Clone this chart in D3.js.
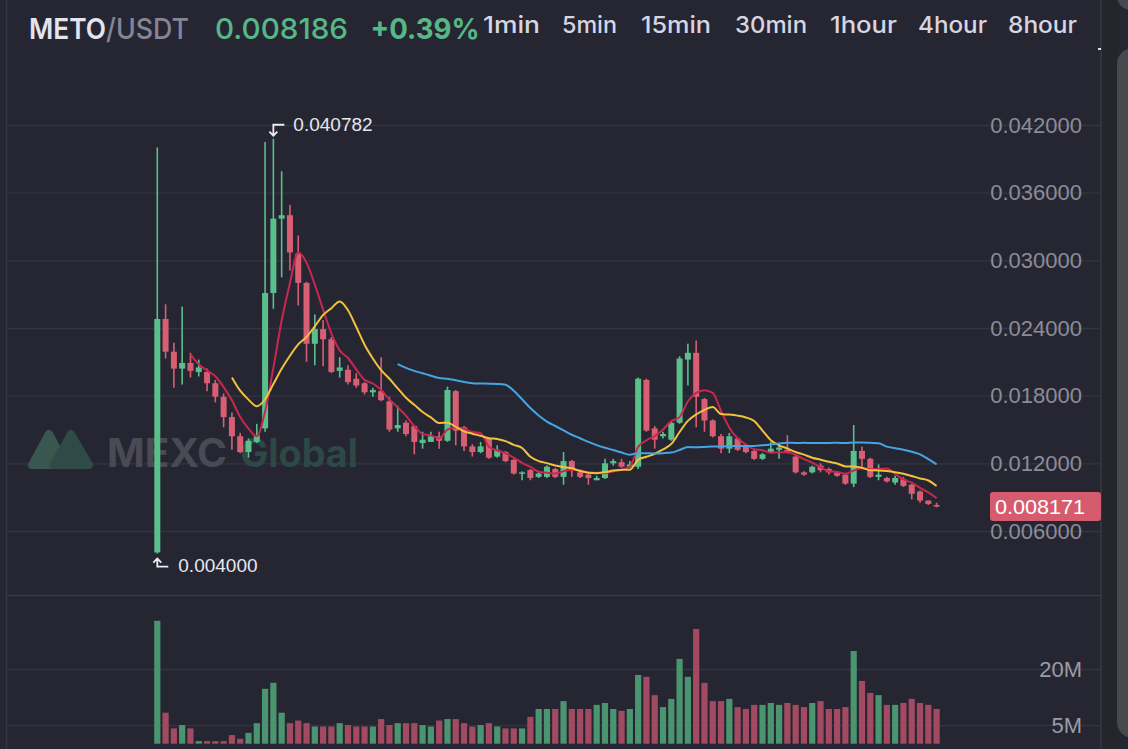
<!DOCTYPE html>
<html lang="en">
<head>
<meta charset="UTF-8">
<title>METO/USDT</title>
<script src="https://cdnjs.cloudflare.com/ajax/libs/d3/7.8.2/d3.min.js"></script>
<style>
  html, body { margin: 0; padding: 0; background: #262632; }
  svg { display: block; }
</style>
</head>
<body>
<div id="chart"></div>
<script>
// candles, oldest first
const opens = [
  0.0041, 0.0248, 0.0219, 0.0204, 0.0209, 0.0201, 0.0201, 0.0191, 0.0179, 0.0161,
  0.0144, 0.0130, 0.0139, 0.0151, 0.0271, 0.0337, 0.0340, 0.0306, 0.0280, 0.0226,
  0.0239, 0.0230, 0.0202, 0.0203, 0.0195, 0.0191, 0.0183, 0.0184, 0.0175, 0.0151,
  0.0156, 0.0153, 0.0138, 0.0139, 0.0144, 0.0140, 0.0184, 0.0152, 0.0135, 0.0130,
  0.0142, 0.0126, 0.0130, 0.0123, 0.0111, 0.0114, 0.0108, 0.0108, 0.0115, 0.0108,
  0.0122, 0.0112, 0.0110, 0.0105, 0.0107, 0.0120, 0.0121, 0.0117, 0.0117, 0.0194,
  0.0151, 0.0144, 0.0141, 0.0156, 0.0212, 0.0218, 0.0177, 0.0158, 0.0144, 0.0133,
  0.0142, 0.0135, 0.0131, 0.0124, 0.0130, 0.0132, 0.0132, 0.0126, 0.0112, 0.0112,
  0.0118, 0.0115, 0.0112, 0.0110, 0.0102, 0.0131, 0.0124, 0.0108, 0.0107, 0.0103,
  0.0106, 0.0101, 0.0095, 0.0087, 0.0083
];
const highs = [
  0.0400, 0.0261, 0.0227, 0.0259, 0.0218, 0.0212, 0.0204, 0.0194, 0.0182, 0.0165,
  0.0147, 0.0142, 0.0155, 0.0405, 0.040782, 0.0379, 0.0349, 0.0322, 0.0281, 0.0252,
  0.0247, 0.0232, 0.0214, 0.0207, 0.0200, 0.0192, 0.0187, 0.0214, 0.0179, 0.0171,
  0.0158, 0.0154, 0.0148, 0.0148, 0.0148, 0.0188, 0.0185, 0.0153, 0.0137, 0.0139,
  0.0143, 0.0136, 0.0131, 0.0124, 0.0113, 0.0115, 0.0112, 0.0118, 0.0116, 0.0130,
  0.0123, 0.0113, 0.0111, 0.0109, 0.0124, 0.0124, 0.0124, 0.0122, 0.0196, 0.0195,
  0.0153, 0.0148, 0.0157, 0.0215, 0.0226, 0.0229, 0.0178, 0.0159, 0.0146, 0.0147,
  0.0143, 0.0136, 0.0132, 0.0129, 0.0139, 0.0138, 0.0145, 0.0127, 0.0113, 0.0118,
  0.0120, 0.0116, 0.0113, 0.0111, 0.0154, 0.0135, 0.0125, 0.0119, 0.0108, 0.0109,
  0.0108, 0.0102, 0.0096, 0.0087, 0.0085
];
const lows = [
  0.0040, 0.0213, 0.0187, 0.0190, 0.0196, 0.0197, 0.0184, 0.0174, 0.0152, 0.0132,
  0.0129, 0.0125, 0.0138, 0.0148, 0.0257, 0.0285, 0.0291, 0.0260, 0.0210, 0.0207,
  0.0206, 0.0200, 0.0196, 0.0190, 0.0187, 0.0181, 0.0179, 0.0175, 0.0148, 0.0148,
  0.0144, 0.0128, 0.0133, 0.0139, 0.0133, 0.0139, 0.0136, 0.0131, 0.0126, 0.0129,
  0.0124, 0.0125, 0.0121, 0.0110, 0.0105, 0.0105, 0.0107, 0.0107, 0.0107, 0.0101,
  0.0108, 0.0107, 0.0101, 0.0105, 0.0106, 0.0118, 0.0116, 0.0116, 0.0115, 0.0148,
  0.0133, 0.0142, 0.0140, 0.0155, 0.0189, 0.0152, 0.0148, 0.0143, 0.0129, 0.0129,
  0.0131, 0.0129, 0.0123, 0.0123, 0.0129, 0.0124, 0.0129, 0.0111, 0.0109, 0.0111,
  0.0112, 0.0110, 0.0108, 0.0101, 0.0099, 0.0117, 0.0107, 0.0105, 0.0103, 0.0101,
  0.0099, 0.0088, 0.0085, 0.0083, 0.0081
];
const closes = [
  0.0248, 0.0219, 0.0204, 0.0209, 0.0202, 0.0205, 0.0191, 0.0179, 0.0161, 0.0144,
  0.0130, 0.0140, 0.0145, 0.0271, 0.0337, 0.0340, 0.0307, 0.0280, 0.0226, 0.0239,
  0.0230, 0.0201, 0.0205, 0.0192, 0.0189, 0.0183, 0.0185, 0.0176, 0.0150, 0.0154,
  0.0146, 0.0139, 0.0141, 0.0144, 0.0140, 0.0185, 0.0149, 0.0135, 0.0130, 0.0135,
  0.0125, 0.0132, 0.0122, 0.0111, 0.0112, 0.0107, 0.0111, 0.0117, 0.0108, 0.0122,
  0.0114, 0.0108, 0.0107, 0.0107, 0.0120, 0.0122, 0.0117, 0.0119, 0.0195, 0.0149,
  0.0141, 0.0146, 0.0156, 0.0213, 0.0218, 0.0179, 0.0158, 0.0144, 0.0133, 0.0144,
  0.0132, 0.0130, 0.0124, 0.0128, 0.0133, 0.0134, 0.0130, 0.0112, 0.0110, 0.0117,
  0.0114, 0.0112, 0.0109, 0.0102, 0.0131, 0.0124, 0.0108, 0.0110, 0.0104, 0.0107,
  0.0100, 0.0093, 0.0087, 0.0084, 0.008171
];
// volume in millions
const volumes = [
  32.9, 8.3, 4.1, 5.0, 4.1, 0.7, 0.7, 0.7, 0.7, 2.3,
  1.3, 2.9, 5.5, 14.7, 16.3, 8.3, 5.5, 6.2, 5.5, 4.6,
  4.6, 4.6, 5.5, 5.0, 4.6, 4.6, 4.6, 6.6, 5.0, 5.5,
  5.5, 5.5, 5.0, 4.6, 6.2, 6.6, 6.6, 5.5, 4.6, 5.0,
  5.5, 4.6, 4.1, 4.1, 4.1, 7.2, 9.3, 9.3, 9.3, 11.4,
  9.3, 9.3, 9.3, 10.4, 10.9, 9.3, 8.8, 9.3, 18.4, 17.9,
  13.0, 9.8, 12.0, 22.7, 17.9, 30.7, 16.3, 11.4, 11.4, 12.0,
  9.8, 9.3, 10.4, 10.4, 10.9, 10.4, 10.9, 10.4, 9.8, 10.9,
  11.4, 9.3, 9.3, 9.8, 24.8, 16.8, 13.6, 13.0, 10.4, 10.4,
  10.9, 12.0, 10.9, 10.4, 9.3
];

const priceTicks = [0.006, 0.012, 0.018, 0.024, 0.030, 0.036, 0.042];
const volTicks = [5, 20];
const maPeriods = [5, 10, 30];
const maColors = ["#c9274f", "#f3c13c", "#45a5e2"];
const intervals = ["1min", "5min", "15min", "30min", "1hour", "4hour", "8hour"];
const intervalX = [483, 562, 641, 735, 830, 918, 1008];
const intervalW = [57, 55, 70, 72, 67, 69, 69];

const lastPrice = 0.008186;
const change = "+0.39%";

const width = 1128, height = 749;
const up = "#5bbf8c", down = "#d85f73";
const upVol = "#4a9470", downVol = "#a14a61";
const bg = "#262632";
const grid = "#353542";
const axisFont = "'Liberation Sans', Arial, Helvetica, sans-serif";

const svg = d3.select("#chart").append("svg")
  .attr("width", width)
  .attr("height", height);

svg.append("rect").attr("width", width).attr("height", height).attr("fill", bg);

const candles = closes.map((c, i) => ({
  i, o: opens[i], h: highs[i], l: lows[i], c, v: volumes[i]
}));

const x = d3.scaleLinear().domain([0, candles.length - 1]).range([157.3, 936.6]);
const y = d3.scaleLinear().domain([0.006, 0.042]).range([531, 125]);
const yVol = d3.scaleLinear().domain([0, 20]).range([743.7, 669]);

// left / right frame
svg.append("line").attr("x1", 6.5).attr("x2", 6.5).attr("y1", 0).attr("y2", height)
  .attr("stroke", "#363642").attr("stroke-width", 1.5);
svg.append("rect").attr("x", 1101.5).attr("y", 0).attr("width", 16).attr("height", height)
  .attr("fill", "#25252c");
svg.append("line").attr("x1", 1101).attr("x2", 1101).attr("y1", 0).attr("y2", height)
  .attr("stroke", "#3c3c48").attr("stroke-width", 1.2);
svg.append("rect").attr("x", 1117).attr("y", 48).attr("width", 40).attr("height", 690)
  .attr("rx", 16).attr("fill", "#48484f");
svg.append("rect").attr("x", 1117).attr("y", -40).attr("width", 40).attr("height", 50)
  .attr("rx", 14).attr("fill", "#48484f");
svg.append("rect").attr("x", 1098).attr("y", 48).attr("width", 3).attr("height", 2)
  .attr("fill", "#e0e0e8");

// separator between price and volume panes
svg.append("line").attr("x1", 7).attr("x2", 1101).attr("y1", 595.5).attr("y2", 595.5)
  .attr("stroke", "#3a3a47").attr("stroke-width", 1.5);

// price axis + grid
const yAxis = svg.append("g")
  .attr("transform", "translate(1100,0)")
  .call(d3.axisRight(y).tickValues(priceTicks).tickSize(-1092).tickPadding(0)
    .tickFormat(d3.format(".6f")));
yAxis.select(".domain").remove();
yAxis.selectAll(".tick line").attr("stroke", grid).attr("stroke-width", 1.3);
yAxis.selectAll(".tick text")
  .attr("x", -18).attr("text-anchor", "end")
  .attr("fill", "#8c8c98").attr("font-size", 22).attr("font-family", axisFont);

// volume axis + grid
const vAxis = svg.append("g")
  .attr("transform", "translate(1100,0)")
  .call(d3.axisRight(yVol).tickValues(volTicks).tickSize(-1092).tickPadding(0)
    .tickFormat(d => d + "M"));
vAxis.select(".domain").remove();
vAxis.selectAll(".tick line").attr("stroke", grid).attr("stroke-width", 1.3);
vAxis.selectAll(".tick text")
  .attr("x", -18).attr("text-anchor", "end")
  .attr("fill", "#9c9ca8").attr("font-size", 22).attr("font-family", axisFont);

// watermark
const wm = svg.append("g");
wm.append("path")
  .attr("d", "M32,465 L49,434 L66,465 Z")
  .attr("fill", "#3a574f").attr("stroke", "#3a574f")
  .attr("stroke-width", 8).attr("stroke-linejoin", "round");
wm.append("path")
  .attr("d", "M54,465 L71,434 L89,465 Z")
  .attr("fill", "#2f4a47").attr("stroke", "#2f4a47")
  .attr("stroke-width", 8).attr("stroke-linejoin", "round");
wm.append("text").attr("x", 107).attr("y", 467)
  .attr("font-family", "Inter, 'Liberation Sans', sans-serif").attr("font-weight", 700)
  .attr("font-size", 39).attr("textLength", 120).attr("lengthAdjust", "spacingAndGlyphs")
  .attr("fill", "#4a4a55").text("MEXC");
wm.append("text").attr("x", 240).attr("y", 467)
  .attr("font-family", "Inter, 'Liberation Sans', sans-serif").attr("font-weight", 700)
  .attr("font-size", 39).attr("textLength", 118).attr("lengthAdjust", "spacingAndGlyphs")
  .attr("fill", "#2d4845").text("Global");

// volume bars
svg.append("g").selectAll("rect")
  .data(candles).join("rect")
  .attr("x", d => x(d.i) - 3.1)
  .attr("width", 6.2)
  .attr("y", d => yVol(d.v))
  .attr("height", d => yVol(0) - yVol(d.v))
  .attr("fill", d => d.c >= d.o ? upVol : downVol);

// candles
const cg = svg.append("g");
cg.selectAll("line")
  .data(candles).join("line")
  .attr("x1", d => x(d.i)).attr("x2", d => x(d.i))
  .attr("y1", d => y(d.h)).attr("y2", d => y(d.l))
  .attr("stroke", d => d.c >= d.o ? up : down)
  .attr("stroke-width", 1.6);
cg.selectAll("rect")
  .data(candles).join("rect")
  .attr("x", d => x(d.i) - 3)
  .attr("width", 6)
  .attr("y", d => y(Math.max(d.o, d.c)))
  .attr("height", d => Math.max(1.5, Math.abs(y(d.o) - y(d.c))))
  .attr("fill", d => d.c >= d.o ? up : down);

// moving averages of the closes
maPeriods.forEach((n, k) => {
  const pts = candles.slice(n - 1).map(d => ({
    i: d.i,
    v: d3.mean(closes.slice(d.i - n + 1, d.i + 1))
  }));
  svg.append("path")
    .datum(pts)
    .attr("fill", "none")
    .attr("stroke", maColors[k])
    .attr("stroke-width", 2)
    .attr("d", d3.line().x(d => x(d.i)).y(d => y(d.v)).curve(d3.curveMonotoneX));
});

// high / low markers
const hiIdx = d3.maxIndex(highs), loIdx = d3.minIndex(lows);
const hx = x(hiIdx), hy = y(highs[hiIdx]);
svg.append("path")
  .attr("d", `M${hx + 11},${hy - 14} H${hx} V${hy - 3} M${hx - 4},${hy - 7} L${hx},${hy - 3} L${hx + 4},${hy - 7}`)
  .attr("fill", "none").attr("stroke", "#ececf2").attr("stroke-width", 1.8);
svg.append("text").attr("x", hx + 20).attr("y", hy - 14).attr("dy", "0.35em")
  .attr("font-family", axisFont).attr("font-size", 19).attr("fill", "#e6e6ee")
  .text(d3.format(".6f")(highs[hiIdx]));
const lx = x(loIdx), ly = y(lows[loIdx]);
svg.append("path")
  .attr("d", `M${lx},${ly + 5} V${ly + 13} H${lx + 11} M${lx - 4},${ly + 9} L${lx},${ly + 5} L${lx + 4},${ly + 9}`)
  .attr("fill", "none").attr("stroke", "#ececf2").attr("stroke-width", 1.8);
svg.append("text").attr("x", lx + 21).attr("y", ly + 12).attr("dy", "0.35em")
  .attr("font-family", axisFont).attr("font-size", 19).attr("fill", "#e6e6ee")
  .text(d3.format(".6f")(lows[loIdx]));

// last price tag
const last = closes[closes.length - 1];
svg.append("rect").attr("x", 990).attr("y", y(last) - 14.5).attr("width", 111).attr("height", 29)
  .attr("rx", 3).attr("fill", "#d45c6e");
svg.append("text").attr("x", 995).attr("y", y(last)).attr("dy", "0.35em")
  .attr("font-family", axisFont).attr("font-size", 21).attr("fill", "#ffffff")
  .attr("textLength", 90).attr("lengthAdjust", "spacingAndGlyphs")
  .text(d3.format(".6f")(last));

// header
const hf = "Inter, 'Noto Sans', 'Liberation Sans', sans-serif";
svg.append("text").attr("x", 29).attr("y", 38.5)
  .attr("font-family", hf).attr("font-weight", 600).attr("font-size", 29)
  .attr("textLength", 77).attr("lengthAdjust", "spacingAndGlyphs")
  .attr("fill", "#e4e4ee").text("METO");
svg.append("text").attr("x", 106).attr("y", 38.5)
  .attr("font-family", hf).attr("font-weight", 500).attr("font-size", 29)
  .attr("textLength", 83).attr("lengthAdjust", "spacingAndGlyphs")
  .attr("fill", "#858596").text("/USDT");
svg.append("text").attr("x", 215).attr("y", 38.5)
  .attr("font-family", hf).attr("font-weight", 500).attr("font-size", 29)
  .attr("textLength", 133).attr("lengthAdjust", "spacingAndGlyphs")
  .attr("fill", "#56b886").text(d3.format(".6f")(lastPrice));
svg.append("text").attr("x", 370.5).attr("y", 38.5)
  .attr("font-family", hf).attr("font-weight", 700).attr("font-size", 29)
  .attr("textLength", 109).attr("lengthAdjust", "spacingAndGlyphs")
  .attr("fill", "#56b886").text(change);

svg.append("g").selectAll("text")
  .data(intervals).join("text")
  .attr("x", (d, i) => intervalX[i])
  .attr("y", 33)
  .attr("font-family", hf).attr("font-weight", 500).attr("font-size", 23)
  .attr("textLength", (d, i) => intervalW[i]).attr("lengthAdjust", "spacingAndGlyphs")
  .attr("fill", "#d6d6e3")
  .text(d => d);
</script>
</body>
</html>
